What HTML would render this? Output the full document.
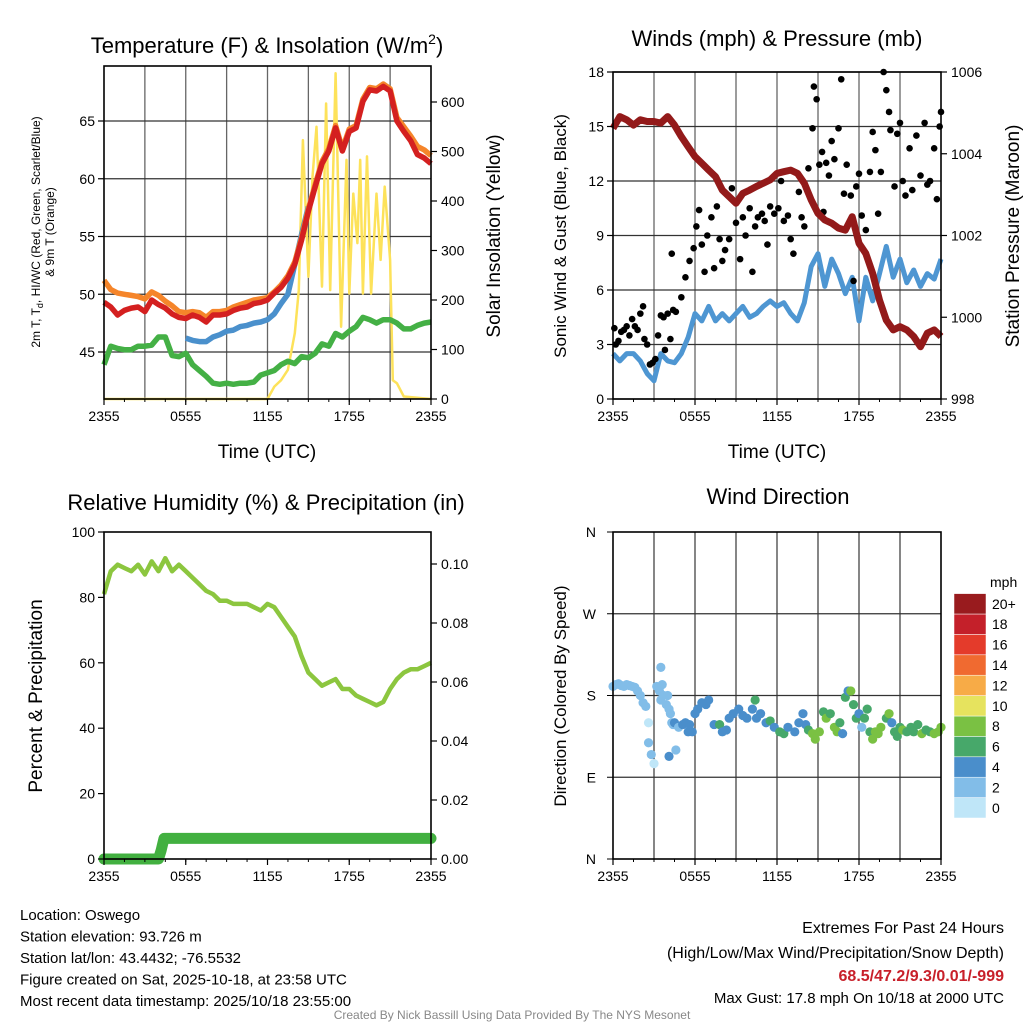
<!DOCTYPE html>
<html><head><meta charset="utf-8">
<style>
body{margin:0;background:#fff;}
svg{display:block;font-family:"Liberation Sans",Arial,sans-serif;}
</style></head>
<body>
<svg id="c" width="1024" height="1024" viewBox="0 0 1024 1024"></svg>
<script>
// ---------- data ----------
const halfHours = [0,0.5,1,1.5,2,2.5,3,3.5,4,4.5,5,5.5,6,6.5,7,7.5,8,8.5,9,9.5,10,10.5,11,11.5,12,12.5,13,13.5,14,14.5,15,15.5,16,16.5,17,17.5,18,18.5,19,19.5,20,20.5,21,21.5,22,22.5,23,23.5,24];
const xTickLabels = ["2355","0555","1155","1755","2355"];
const temp2m = [49.3,48.9,48.2,48.6,48.8,48.9,48.5,49.5,49.1,48.8,48.3,48.0,47.9,48.2,48.0,47.6,48.2,48.2,48.3,48.6,48.8,48.9,49.2,49.3,49.5,50.1,50.6,51.4,52.6,54.7,57.2,59.3,61.3,62.4,64.4,62.4,64.1,64.4,66.7,67.7,67.6,68.0,67.6,65.0,64.1,63.3,62.1,61.8,61.3];
const temp9m = [51.2,50.4,50.1,50.0,49.9,49.8,49.6,50.2,49.9,49.4,49.0,48.5,48.4,48.5,48.4,48.0,48.5,48.5,48.6,48.9,49.1,49.3,49.5,49.6,49.7,50.2,50.8,51.6,52.8,54.9,57.4,59.5,61.5,62.6,64.6,62.6,64.3,64.6,66.9,67.9,67.8,68.2,67.8,65.3,64.5,63.7,62.8,62.5,62.0];
const heatIndex = [null,null,null,null,null,null,null,null,null,null,null,null,46.2,46.0,45.9,45.9,46.3,46.5,46.8,46.9,47.2,47.3,47.5,47.6,47.8,48.3,49.2,50.0,52.6,55.2,57.6,null,null,null,null,null,null,null,null,null,null,null,null,null,null,null,null,null,null];
const dewPoint = [43.9,45.5,45.3,45.2,45.2,45.5,45.5,45.6,46.3,46.3,44.7,44.6,44.9,43.9,43.4,42.9,42.3,42.2,42.3,42.2,42.3,42.3,42.4,43.0,43.2,43.4,43.9,44.2,44.0,44.6,44.5,44.9,45.7,45.5,46.6,46.3,46.8,47.2,48.0,47.8,47.5,47.8,47.8,47.5,47.0,47.0,47.3,47.5,47.6];
const solarTime = [0,12,12.5,13,13.5,14,14.3,14.6,15,15.3,15.6,16,16.3,16.6,17,17.4,17.8,18,18.3,18.6,18.8,19,19.3,19.6,20,20.3,20.6,21,21.2,21.5,22,24];
const solarVals = [0,0,25,38,59,133,220,523,247,449,550,227,597,220,658,146,483,213,415,315,483,213,490,213,415,281,429,281,38,32,5,0];
const tempTicks = [45,50,55,60,65];
const solarTicks = [0,100,200,300,400,500,600];

const pressure = [1004.62,1004.91,1004.83,1004.7,1004.83,1004.79,1004.79,1004.75,1004.91,1004.7,1004.42,1004.17,1003.93,1003.77,1003.6,1003.44,1003.11,1002.95,1002.79,1003.03,1003.11,1003.2,1003.28,1003.36,1003.52,1003.56,1003.6,1003.52,1003.28,1002.87,1002.54,1002.38,1002.3,1002.18,1002.13,1002.46,1001.81,1001.56,1001.07,1000.42,999.93,999.69,999.77,999.69,999.53,999.28,999.61,999.69,999.53];
const sonicWind = [2.5,2.1,2.5,2.5,2.1,1.4,1.0,2.5,2.1,2.0,2.5,3.4,4.7,4.3,5.1,4.3,4.7,4.3,4.7,5.1,4.5,4.7,5.1,5.4,5.1,5.3,4.7,4.3,5.3,7.3,8.0,6.2,7.7,6.9,5.8,6.7,4.3,6.7,5.4,6.9,8.4,6.7,7.7,6.4,7.1,6.2,6.9,6.6,7.7];
const gustTime = [0.1,0.2,0.4,0.6,0.8,1.0,1.2,1.4,1.6,1.8,2.0,2.2,2.3,2.5,2.7,2.9,3.1,3.3,3.5,3.7,3.8,4.0,4.2,4.3,4.4,4.6,5.0,5.3,5.6,5.9,6.1,6.3,6.5,6.7,6.9,7.2,7.4,7.6,7.8,8.0,8.2,8.5,8.7,9.0,9.3,9.5,9.7,10.0,10.2,10.4,10.6,10.9,11.1,11.3,11.5,11.8,12.1,12.3,12.5,12.8,13.0,13.2,13.6,13.8,14.0,14.3,14.6,14.7,14.9,15.1,15.3,15.4,15.6,15.8,16.0,16.2,16.5,16.7,16.9,17.1,17.4,17.6,17.8,18.0,18.2,18.5,18.8,19.0,19.2,19.4,19.6,19.8,20.0,20.2,20.3,20.6,20.8,21.0,21.2,21.4,21.7,21.9,22.2,22.5,22.8,23.0,23.2,23.5,23.7,23.9,24.0];
const gustVals = [3.9,3.0,3.2,3.7,3.8,4.0,3.5,4.4,4.0,3.8,4.7,5.1,3.3,3.0,1.9,2.0,2.2,3.5,4.6,4.5,2.7,4.7,3.3,8.0,4.9,4.8,5.6,6.7,7.6,8.3,9.5,10.4,8.5,7.0,9.0,10.0,7.2,10.6,8.8,7.6,8.2,8.8,11.6,9.7,7.7,10.0,9.0,10.5,7.0,9.5,10.0,10.2,9.8,8.5,10.6,10.2,10.5,12.0,9.8,10.1,8.8,8.0,11.4,10.0,9.5,12.7,14.9,17.2,16.5,12.9,13.6,10.3,13.0,12.3,14.2,13.2,14.9,17.6,11.3,12.9,11.2,6.5,11.7,12.4,10.1,9.3,12.5,14.7,13.7,10.2,12.5,18.0,17.0,15.8,14.8,11.7,14.6,15.2,12.0,11.2,13.8,11.5,14.5,12.3,15.2,11.8,12.0,13.8,11.0,15.0,15.8];
const windTicks = [0,3,6,9,12,15,18];
const pressTicks = [998,1000,1002,1004,1006];

const rhVals = [81,88,90,89,88,90,87,91,88,92,88,90,88,86,84,82,81,79,79,78,78,78,77,76,78,77,74,71,68,62,57,55,53,54,55,52,52,50,49,48,47,48,52,55,57,58,58,59,60];
const precipTime = [0,4.0,4.2,4.4,24];
const precipVals = [0,0,0.003,0.007,0.007];
const rhTicks = [0,20,40,60,80,100];
const precipTicks = [0,0.02,0.04,0.06,0.08,0.10];

const dirTime = [0,0.2,0.4,0.6,0.8,1.0,1.2,1.4,1.6,1.8,2.0,2.2,2.4,2.6,2.6,2.8,3.0,3.2,3.4,3.5,3.5,3.6,3.7,3.9,4.0,4.1,4.2,4.3,4.4,4.5,4.6,4.1,4.8,5.1,5.3,5.5,5.6,5.8,6.0,6.2,6.5,6.8,7.0,7.4,7.8,8.0,8.3,8.5,8.8,9.2,9.5,9.8,10.2,10.4,10.5,10.8,11.2,11.5,11.8,12.2,12.5,12.8,13.3,13.6,13.9,14.1,14.3,14.6,14.8,15.1,15.4,15.6,15.9,16.2,16.4,16.6,16.8,17.0,17.2,17.4,17.6,17.8,18.0,18.2,18.4,18.6,18.8,19.0,19.2,19.4,19.6,20.0,20.2,20.4,20.6,20.8,21.0,21.2,21.5,21.8,22.0,22.3,22.6,22.9,23.2,23.5,23.8,24.0];
const dirVals = [190,192,193,191,190,192,191,190,189,185,180,172,168,150,128,115,105,190,185,175,211,192,180,170,180,165,160,150,148,150,120,113,145,148,150,140,148,140,160,165,172,170,175,148,148,140,142,155,160,165,158,155,165,175,155,160,150,152,145,140,138,145,140,150,160,148,142,138,132,140,162,155,160,145,140,150,138,178,185,185,170,155,160,145,155,165,140,132,140,138,145,155,160,150,140,135,145,142,140,145,140,148,138,142,140,138,140,145];
const dirSpeed = [2,2,2,2,2,2,2,2,2,2,2,2,2,0,1,2,0,2,2,2,2,2,2,1,2,2,2,2,2,3,2,4,2,3,3,4,4,3,4,4,4,4,4,3,6,4,4,4,4,4,4,4,4,6,4,4,4,5,4,5,6,4,4,4,4,4,6,7,8,8,6,8,6,7,8,6,3,6,4,7,6,6,4,2,6,6,6,8,8,7,8,6,8,4,6,6,6,7,6,6,6,6,7,6,6,7,7,8];
const cbLabels = ["0","2","4","6","8","10","12","14","16","18","20+"];
const cbColors = ["#bfe6f8","#82bde8","#4a8ecb","#47a86a","#7ac143","#e6e35e","#f7ab47","#f06a30","#e43b2b","#c4202a","#991b1e"];
const dirLabels = ["N","E","S","W","N"];

// ---------- helpers ----------
const NS="http://www.w3.org/2000/svg";
const svg=document.getElementById('c');
function el(tag,attrs,parent,txt){const e=document.createElementNS(NS,tag);for(const k in attrs)e.setAttribute(k,attrs[k]);if(txt!==undefined)e.textContent=txt;(parent||svg).appendChild(e);return e;}
function lin(d0,d1,r0,r1){return v=>r0+(v-d0)*(r1-r0)/(d1-d0);}
function pathD(xs,ys,fx,fy){let d="",pen=false;for(let i=0;i<xs.length;i++){if(ys[i]===null){pen=false;continue;}d+=(pen?"L":"M")+fx(xs[i]).toFixed(1)+","+fy(ys[i]).toFixed(1);pen=true;}return d;}
function grid(g,x0,y0,x1,y1,fx,vLines,fy,hLines,color){
  vLines.forEach(h=>{const l=el('line',{x1:fx(h),x2:fx(h),y1:y0,y2:y1,stroke:color||'#666','stroke-width':1.3},g);});
  hLines.forEach(v=>{const l=el('line',{x1:x0,x2:x1,y1:fy(v),y2:fy(v),stroke:'#333','stroke-width':1.3},g);});
}
function frame(g,x0,y0,x1,y1){const r=el('rect',{x:x0,y:y0,width:x1-x0,height:y1-y0,fill:'none',stroke:'#000','stroke-width':1.6},g);}
function xAxis(g,fx,y,labY){
  [0,6,12,18,24].forEach((h,i)=>{el('line',{x1:fx(h),x2:fx(h),y1:y,y2:y+6,stroke:'#000','stroke-width':1.2},g);
    const t=el('text',{x:fx(h),y:labY,'font-size':14,'text-anchor':'middle'},g,xTickLabels[i]);});
  for(let h=0;h<=24;h+=1.5)el('line',{x1:fx(h),x2:fx(h),y1:y,y2:y+3,stroke:'#000','stroke-width':1},g);
}
function yAxisL(g,x,fy,ticks,fmt){ticks.forEach(v=>{el('line',{x1:x-6,x2:x,y1:fy(v),y2:fy(v),stroke:'#000','stroke-width':1.2},g);
  const t=el('text',{x:x-9,y:fy(v)+5,'font-size':14,'text-anchor':'end'},g,fmt?fmt(v):v);});}
function yAxisR(g,x,fy,ticks,fmt){ticks.forEach(v=>{el('line',{x1:x,x2:x+6,y1:fy(v),y2:fy(v),stroke:'#000','stroke-width':1.2},g);
  const t=el('text',{x:x+10,y:fy(v)+5,'font-size':14,'text-anchor':'start'},g,fmt?fmt(v):v);});}
function rotText(g,x,y,size,txt,name){const t=el('text',{x:x,y:y,'font-size':size,'text-anchor':'middle',transform:`rotate(-90 ${x} ${y})`},g,txt);return t;}
function txt(g,x,y,size,s,anchor,name,extra){const t=el('text',Object.assign({x:x,y:y,'font-size':size,'text-anchor':anchor||'middle'},extra||{}),g,s);return t;}
const gridHours=[3,6,9,12,15,18,21];

// ---------- panel 1: temperature ----------
{
const g=el('g',{});
const X0=104,X1=431,Y0=66,Y1=399;
const fx=lin(0,24,X0,X1), fy=lin(45,65,352,121), fs=lin(0,600,399,102);
grid(g,X0,Y0,X1,Y1,fx,gridHours,fy,tempTicks);
const sl=el('path',{d:pathD(solarTime,solarVals,fx,fs),fill:'none',stroke:'#fde25a','stroke-width':2.5,'stroke-linejoin':'round'},g);
const dp=el('path',{d:pathD(halfHours,dewPoint,fx,fy),fill:'none',stroke:'#44b045','stroke-width':5.5,'stroke-linejoin':'round'},g);
const hi=el('path',{d:pathD(halfHours,heatIndex,fx,fy),fill:'none',stroke:'#4a90cc','stroke-width':5.5,'stroke-linejoin':'round'},g);
const t9=el('path',{d:pathD(halfHours,temp9m,fx,fy),fill:'none',stroke:'#f5852a','stroke-width':5.5,'stroke-linejoin':'round'},g);
const t2=el('path',{d:pathD(halfHours,temp2m,fx,fy),fill:'none',stroke:'#d42020','stroke-width':5.5,'stroke-linejoin':'round'},g);
frame(g,X0,Y0,X1,Y1);
xAxis(g,fx,Y1,421);
yAxisL(g,X0,fy,tempTicks);
yAxisR(g,X1,fs,solarTicks);
txt(g,267,53,22,"Temperature (F) & Insolation (W/m","middle","panel-title").innerHTML='Temperature (F) &amp; Insolation (W/m<tspan font-size="14" dy="-9">2</tspan><tspan dy="9">)</tspan>';
txt(g,267,458,19,"Time (UTC)","middle","x-axis-title");
rotText(g,40,232,12,"2m T, T",'y-axis-title').innerHTML='2m T, T<tspan font-size="9" dy="3">d</tspan><tspan dy="-3">, HI/WC (Red, Green, Scarlet/Blue)</tspan>';
rotText(g,54,232,12,"& 9m T (Orange)",'y-axis-title-line2');
rotText(g,500,236,19,"Solar Insolation (Yellow)",'right-axis-title');
}
// ---------- panel 2: winds ----------
{
const g=el('g',{});
const X0=613,X1=941,Y0=72,Y1=399;
const fx=lin(0,24,X0,X1), fy=lin(0,18,399,72), fp=lin(998,1006,399,72);
grid(g,X0,Y0,X1,Y1,fx,gridHours,fy,windTicks);
const sw=el('path',{d:pathD(halfHours,sonicWind,fx,fy),fill:'none',stroke:'#4e96d2','stroke-width':5,'stroke-linejoin':'round'},g);
gustTime.forEach((h,i)=>{const c=el('circle',{cx:fx(h),cy:fy(gustVals[i]),r:3.3,fill:'#000'},g);});
const pl=el('path',{d:pathD(halfHours,pressure,fx,fp),fill:'none',stroke:'#931a1a','stroke-width':7,'stroke-linejoin':'round'},g);
frame(g,X0,Y0,X1,Y1);
xAxis(g,fx,Y1,421);
yAxisL(g,X0,fy,windTicks);
yAxisR(g,X1,fp,pressTicks);
txt(g,777,46,22,"Winds (mph) & Pressure (mb)","middle","panel-title");
txt(g,777,458,19,"Time (UTC)","middle","x-axis-title");
rotText(g,566,236,17,"Sonic Wind & Gust (Blue, Black)","y-axis-title");
rotText(g,1019,236,19,"Station Pressure (Maroon)","right-axis-title");
}
// ---------- panel 3: RH ----------
{
const g=el('g',{});
const X0=104,X1=431,Y0=532,Y1=859;
const fx=lin(0,24,X0,X1), fy=lin(0,100,859,532), fp=lin(0,0.1,859,564);
const pr=el('path',{d:pathD(precipTime,precipVals,fx,fp),fill:'none',stroke:'#42b040','stroke-width':11,'stroke-linejoin':'round','stroke-linecap':'round'},g);
const rh=el('path',{d:pathD(halfHours,rhVals,fx,fy),fill:'none',stroke:'#8cc63f','stroke-width':4.5,'stroke-linejoin':'round'},g);
frame(g,X0,Y0,X1,Y1);
xAxis(g,fx,Y1,881);
yAxisL(g,X0,fy,rhTicks);
yAxisR(g,X1,fp,precipTicks,v=>v.toFixed(2));
txt(g,266,510,22,"Relative Humidity (%) & Precipitation (in)","middle","panel-title");
rotText(g,42,696,19,"Percent & Precipitation","y-axis-title");
}
// ---------- panel 4: wind direction ----------
{
const g=el('g',{});
const X0=613,X1=941,Y0=532,Y1=859;
const fx=lin(0,24,X0,X1), fy=lin(0,360,859,532);
grid(g,X0,Y0,X1,Y1,fx,gridHours,fy,[90,180,270],'#444');
dirTime.forEach((h,i)=>{const ci=Math.min(10,Math.round(dirSpeed[i]/2));const c=el('circle',{cx:fx(h),cy:fy(dirVals[i]),r:4.6,fill:cbColors[ci]},g);});
frame(g,X0,Y0,X1,Y1);
xAxis(g,fx,Y1,881);
dirLabels.forEach((s,i)=>{const y=fy(i*90);el('line',{x1:X0-6,x2:X0,y1:y,y2:y,stroke:'#000'},g);txt(g,X0-17,y+5,14,s,"end","direction-tick-label");});
txt(g,778,504,22,"Wind Direction","middle","panel-title");
rotText(g,566,696,17,"Direction (Colored By Speed)","y-axis-title");
const cb=el('g',{},g);
const bh=20.4;
cbColors.forEach((col,i)=>{const y=818-(i+1)*bh;const r=el('rect',{x:954,y:y,width:32,height:bh,fill:col,stroke:'#fff','stroke-width':0.5},cb);
  txt(cb,992,y+bh/2+5,14,cbLabels[i],"start","colorbar-label");});
txt(cb,990,587,14,"mph","start","colorbar-title");
}
// ---------- footer text ----------
{
const g=el('g',{});
["Location: Oswego","Station elevation: 93.726 m","Station lat/lon: 43.4432; -76.5532","Figure created on Sat, 2025-10-18, at 23:58 UTC","Most recent data timestamp: 2025/10/18 23:55:00"].forEach((s,i)=>txt(g,20,920+i*21.5,15,s,"start","info-line"));
txt(g,1004,933,16,"Extremes For Past 24 Hours","end","extremes-title");
txt(g,1004,958,16,"(High/Low/Max Wind/Precipitation/Snow Depth)","end","extremes-subtitle");
txt(g,1004,981,16,"68.5/47.2/9.3/0.01/-999","end","extremes-values",{fill:'#c8202a','font-weight':'bold'});
txt(g,1004,1003,15,"Max Gust: 17.8 mph On 10/18 at 2000 UTC","end","max-gust");
txt(g,512,1019,12,"Created By Nick Bassill Using Data Provided By The NYS Mesonet","middle","credit",{fill:'#888'});
}
</script>
</body></html>
